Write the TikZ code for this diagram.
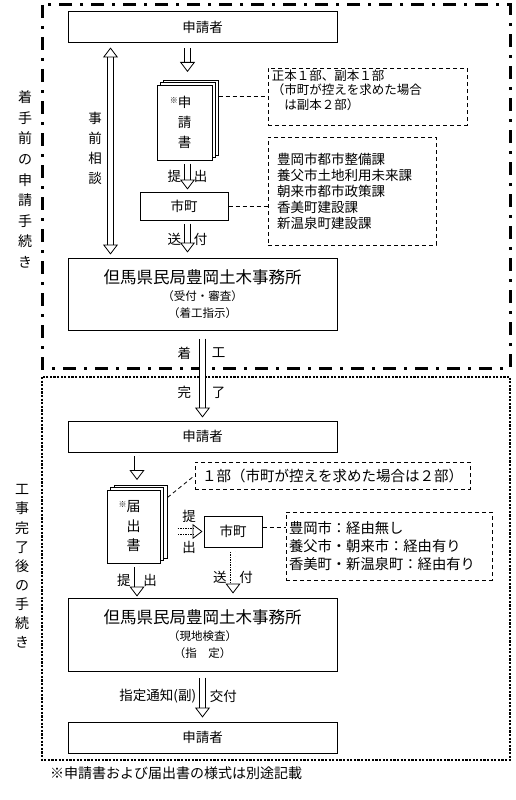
\documentclass[tikz,border=0pt]{standalone}
\usepackage{fontspec}
\newfontfamily\jpfont{Noto Sans CJK JP}
\usetikzlibrary{arrows.meta}
\usetikzlibrary{positioning}
\usetikzlibrary{calc}

\tikzset{
  stepbox/.style={draw, line width=1pt, minimum width=269pt, minimum height=31pt, inner sep=0pt,
    font=\jpfont\fontsize{13.5}{16}\selectfont},
  citybox/.style={draw, line width=1pt, inner sep=0pt, font=\jpfont\fontsize{13.5}{16}\selectfont},
  page/.style={draw, fill=white, line width=1pt, inner sep=0pt, align=center},
  notebox/.style={draw, dash pattern=on 4pt off 3pt, line width=0.8pt, inner sep=0pt},
  notetext/.style={align=left, inner sep=0pt},
  leader/.style={dash pattern=on 4pt off 3pt, line width=0.8pt},
  lbl/.style={inner sep=0pt, font=\jpfont\fontsize{13.5}{16}\selectfont},
  vlabel/.style={inner sep=0pt, align=center},
  hollow/.style={double, double distance=5pt, line width=0.8pt, -{Triangle[open, length=10pt, width=15pt]}},
  hollowboth/.style={double, double distance=5pt, line width=0.8pt, {Triangle[open, length=10pt, width=15pt]}-{Triangle[open, length=10pt, width=15pt]}},
  hollowdot/.style={hollow, dash pattern=on 1.5pt off 1pt},
}

\begin{document}
\begin{tikzpicture}[x=1pt, y=-1pt]
\useasboundingbox (0,0) rectangle (515,800);

% frames
\draw[line width=3pt, dash pattern=on 13pt off 8pt on 3pt off 8pt] (42,5) rectangle (510,368);
\draw[line width=2.6pt, dash pattern=on 2.2pt off 1.4pt] (42,377) rectangle (510,760);

\node[vlabel, font=\jpfont\fontsize{14}{20.6}\selectfont] (pre) at (25,179.5) {着\\手\\前\\の\\申\\請\\手\\続\\き};
\node[vlabel, font=\jpfont\fontsize{14}{19.1}\selectfont] (post) at (22,566.5) {工\\事\\完\\了\\後\\の\\手\\続\\き};

%before: application
\node[stepbox] (app1) at (202.5,27.5) {申請者};

\node[page, minimum width=55pt, minimum height=75pt] (form1c) at (190.5,117.5) {};
\node[page, minimum width=55pt, minimum height=75pt] (form1b) at (187.5,120) {};
\node[page, minimum width=55pt, minimum height=75pt, font=\jpfont\fontsize{13.5}{20}\selectfont] (form1) at (184.5,122.5)
  {\llap{\raisebox{4pt}{\fontsize{8}{8}\selectfont ※}}申\\請\\書};

\node[notebox, minimum width=199pt, minimum height=57pt] (note1) at (367.5,96.5) {};
\node[notetext, anchor=north west, font=\jpfont\fontsize{12.5}{14.5}\selectfont] (note1t) at ([shift={(4pt,-2pt)}]note1.north west)
  {正本１部、副本１部\\（市町が控えを求めた場合\\　は副本２部）};

\node[citybox, minimum width=88pt, minimum height=28pt] (town1) at (184,206) {市町};

\node[notebox, minimum width=168pt, minimum height=108pt, text width=150pt, inner xsep=9pt, align=left,
  font=\jpfont\fontsize{13.5}{16}\selectfont] (note2) at (352,191)
  {豊岡市都市整備課\\養父市土地利用未来課\\朝来市都市政策課\\香美町建設課\\新温泉町建設課};

\node[stepbox, minimum height=72pt, align=center, font=\jpfont\fontsize{11.5}{17}\selectfont] (office1) at (202.5,294)
  {{\fontsize{16.5}{19}\selectfont 但馬県民局豊岡土木事務所}\\（受付・審査）\\（着工指示）};

%after: completion
\node[stepbox] (app2) at (202.5,436.5) {申請者};

\node[page, minimum width=53pt, minimum height=73pt] (form2c) at (140.5,521.5) {};
\node[page, minimum width=53pt, minimum height=73pt] (form2b) at (137,524) {};
\node[page, minimum width=53pt, minimum height=73pt, font=\jpfont\fontsize{14}{19.5}\selectfont] (form2) at (133.5,526.5)
  {\llap{\raisebox{4pt}{\fontsize{8}{8}\selectfont ※}}届\\出\\書};

\node[notebox, minimum width=275pt, minimum height=27pt, text width=261pt, inner xsep=7pt, align=left,
  font=\jpfont\fontsize{14.5}{16}\selectfont] (note3) at (332.5,475.5) {１部（市町が控えを求めた場合は２部）};

\node[citybox, minimum width=58pt, minimum height=31pt] (town2) at (233,531.5) {市町};

\node[notebox, minimum width=206pt, minimum height=68pt, text width=200pt, inner xsep=3pt, align=left,
  font=\jpfont\fontsize{14.3}{18}\selectfont] (note4) at (389,546)
  {豊岡市：経由無し\\養父市・朝来市：経由有り\\香美町・新温泉町：経由有り};

\node[stepbox, minimum height=73pt, align=center, font=\jpfont\fontsize{11.5}{17}\selectfont] (office2) at (202.5,634.5)
  {{\fontsize{16.5}{19}\selectfont 但馬県民局豊岡土木事務所}\\（現地検査）\\（指　定）};

\node[stepbox] (app3) at (202.5,737.5) {申請者};

\node[anchor=west, inner sep=0pt, font=\jpfont\fontsize{14}{16}\selectfont] (memo) at (50,773) {※申請書および届出書の様式は別途記載};

% flow
\draw[hollowboth, shorten <=4pt, shorten >=3pt] ([xshift=43pt]app1.south west) -- ([xshift=43pt]office1.north west);
\node[vlabel, font=\jpfont\fontsize{13.5}{20}\selectfont] (consult) at (95,148) {事\\前\\相\\談};

\draw[hollow, shorten <=5pt, shorten >=10pt] (app1.south -| form1b.north) -- (form1b.north);
\draw[hollow, shorten <=3pt, shorten >=2pt] (form1b.south |- form1.south) -- (town1.north -| form1b.south)
  node[midway, lbl, left=6pt] {提} node[midway, lbl, right=6pt] {出};
\draw[hollow, shorten <=3pt, shorten >=5pt] (town1.south -| form1b.south) -- (office1.north -| form1b.south)
  node[midway, lbl, left=6pt] {送} node[midway, lbl, right=6pt] {付};

\draw[hollow, shorten <=8pt, shorten >=3pt] (office1.south) -- (app2.north)
  node[pos=0.25, lbl, left=11pt] {着} node[pos=0.25, lbl, right=9pt] {工}
  node[pos=0.69, lbl, left=11pt] {完} node[pos=0.69, lbl, right=9pt] {了};

\draw[hollow, shorten <=3pt, shorten >=7pt] (app2.south -| form2b.north) -- (form2b.north);
\draw[hollowdot, shorten <=10pt, shorten >=1pt] (form2c.east |- town2.west) -- (town2.west)
  node[pos=0.6, lbl, above=9pt] {提} node[pos=0.6, lbl, below=9pt] {出};
\draw[hollowdot, shorten <=4pt, shorten >=4pt] (town2.south) -- (office2.north -| town2.south)
  node[pos=0.6, lbl, left=6pt] {送} node[pos=0.6, lbl, right=6pt] {付};
\draw[hollow, shorten <=3pt, shorten >=1pt] (form2b.south |- form2.south) -- (office2.north -| form2b.south)
  node[midway, lbl, left=6pt] {提} node[midway, lbl, right=6pt] {出};

\draw[hollow, shorten <=6pt, shorten >=4pt] (office2.south) -- (app3.north)
  node[midway, lbl, left=6pt] {指定通知(副)} node[midway, lbl, right=7pt] {交付};

% notes
\draw[leader] (note1.west -| form1c.east) -- (note1.west);
\draw[leader] (town1.east) -- (town1.east -| note2.west);
\draw[leader] ([yshift=-13pt]form2c.north east) -- (note3.west);
\draw[leader] ([yshift=4pt]town2.east) -- ([yshift=4pt]town2.east -| note4.west);
\end{tikzpicture}
\end{document}
